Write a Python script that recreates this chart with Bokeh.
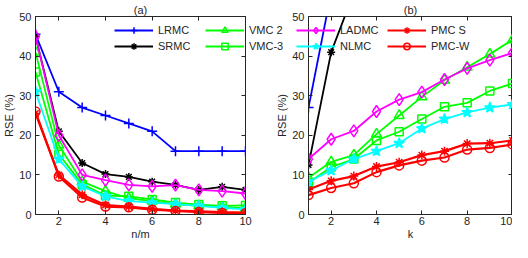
from bokeh.plotting import figure
from bokeh.models import LinearAxis, Range1d, FixedTicker, Legend, LegendItem
from bokeh.layouts import row
from bokeh.embed import file_html
from bokeh.resources import INLINE

# ---------------- data ----------------
x_a = [1, 2, 3, 4, 5, 6, 7, 8, 9, 10]
lrmc_a = [45.5, 31, 27, 25, 23, 21, 16, 16, 16, 16]
srmc_a = [45, 21, 13, 10.2, 9.5, 8.3, 7.5, 6.2, 7.0, 6.2]
vmc2_a = [41, 17.5, 8.3, 5.9, 4.1, 3.4, 2.6, 2.2, 1.9, 1.6]
vmc3_a = [36, 15.2, 7.6, 4.8, 4.6, 3.8, 3.0, 2.5, 2.2, 2.3]
ladmc_a = [45, 20, 10, 8.7, 7.5, 7.1, 7.4, 6.2, 5.9, 5.3]
nlmc_a = [31, 14, 7.1, 4.6, 3.4, 3.0, 2.6, 2.2, 1.7, 1.3]
pmcs_a = [25.5, 10, 5.0, 2.4, 2.0, 1.4, 1.0, 0.8, 0.6, 0.5]
pmcw_a = [26, 9.6, 4.3, 2.0, 1.8, 1.2, 0.9, 0.6, 0.4, 0.3]

k_b = [1, 2, 3, 4, 5, 6, 7, 8, 9, 10]
lrmc_b = [27, 56]
srmc_b = [12.5, 41, 56]
vmc2_b = [9.3, 13.3, 15, 20.3, 25, 29.7, 33.9, 37.2, 40.5, 44.1]
vmc3_b = [8, 12, 14, 18.7, 20.9, 24.1, 27.2, 28.2, 31.2, 33.1]
ladmc_b = [14, 19, 21.1, 26, 29, 30.9, 34.1, 36.9, 39, 40.8]
nlmc_b = [8.3, 11.1, 14, 16, 18, 21.7, 24.1, 25.8, 27, 27.8]
pmcs_b = [6.3, 8.5, 9.7, 12.1, 13.2, 15, 16, 17.9, 18, 18.7]
pmcw_b = [4.9, 6.7, 7.9, 10.7, 12.4, 13.6, 14.4, 16.4, 16.8, 17.7]

x_ticks = [2, 4, 6, 8, 10]
y_ticks = [0, 10, 20, 30, 40, 50]

names = ["LRMC", "SRMC", "VMC 2", "VMC-3", "LADMC", "NLMC", "PMC S", "PMC-W"]
colors = ["#0000FF", "#000000", "#00FF00", "#00FF00", "#FF00FF", "#00FFFF", "#FF0000", "#FF0000"]
markers = ["cross", "asterisk", "triangle", "square", "diamond", "star", "asterisk", "circle"]
msizes = [10, 8, 10, 8, 12, 11, 9, 9]
fills = [False, False, False, False, False, True, False, False]

FONT = "Liberation Sans"
AX = "#262626"


def style_axis(ax, labels=True, ticks=None, lab_standoff=4, title_standoff=1):
    ax.major_tick_in = 4
    ax.major_tick_out = 0
    ax.minor_tick_line_color = None
    ax.major_tick_line_color = AX
    ax.axis_line_color = AX
    ax.major_label_text_font = FONT
    ax.major_label_text_color = AX
    ax.major_label_text_font_size = "11px"
    ax.major_label_standoff = lab_standoff
    ax.axis_label_text_font = FONT
    ax.axis_label_text_font_size = "11px"
    ax.axis_label_text_font_style = "normal"
    ax.axis_label_text_color = AX
    ax.axis_label_standoff = title_standoff
    if not labels:
        ax.major_label_overrides = {t: "" for t in ticks}
        ax.major_label_standoff = 0


def make_fig(width, title, xlabel, mbl, mbr):
    p = figure(width=width, height=242, x_range=Range1d(1, 10), y_range=Range1d(0, 50),
               output_backend="svg", toolbar_location=None, title=title,
               min_border_left=mbl, min_border_right=mbr, min_border_top=10,
               min_border_bottom=0)
    p.background_fill_color = None
    p.border_fill_color = None
    p.title.align = "center"
    p.title.text_font = FONT
    p.title.text_font_size = "11px"
    p.title.text_font_style = "normal"
    p.title.text_color = AX
    p.title.standoff = 2
    p.xaxis.ticker = FixedTicker(ticks=x_ticks)
    p.yaxis.ticker = FixedTicker(ticks=y_ticks)
    p.xaxis.axis_label = xlabel
    p.yaxis.axis_label = "RSE (%)"
    style_axis(p.xaxis[0], lab_standoff=2, title_standoff=0)
    style_axis(p.yaxis[0])
    ra = LinearAxis(ticker=FixedTicker(ticks=y_ticks))
    style_axis(ra, labels=False, ticks=y_ticks)
    p.add_layout(ra, "right")
    ta = LinearAxis(ticker=FixedTicker(ticks=x_ticks))
    style_axis(ta, labels=False, ticks=x_ticks)
    p.add_layout(ta, "above")
    p.grid.visible = False
    p.outline_line_color = AX
    p.outline_line_alpha = 1
    return p


def draw(p, xs, series):
    out = []
    for name, ys, c, m, s, f in zip(names, series, colors, markers, msizes, fills):
        xx = xs[:len(ys)]
        lw = 2.2 if c == "#FF0000" else 1.8
        r1 = p.line(xx, ys, line_color=c, line_width=lw)
        r2 = p.scatter(xx, ys, marker=m, size=s, line_color=c, line_width=1.5,
                       fill_color=c if f else None)
        out.append((name, [r1, r2]))
    return out


series_a = [lrmc_a, srmc_a, vmc2_a, vmc3_a, ladmc_a, nlmc_a, pmcs_a, pmcw_a]

p1 = make_fig(256, "(a)", "n/m", 30, 11)
draw(p1, x_a, series_a)

p2 = make_fig(420, "(b)", "k", 216, 0)
draw(p2, k_b, [lrmc_b, srmc_b, vmc2_b, vmc3_b, ladmc_b, nlmc_b, pmcs_b, pmcw_b])
p2.margin = (0, 0, 0, -164)

# transparent overlay that carries the shared legend (not clipped by a plot frame);
# its ranges lie away from the data so its own copies of the series stay hidden
p3 = figure(width=400, height=242, x_range=Range1d(100, 101), y_range=Range1d(100, 101),
            output_backend="svg", toolbar_location=None, title=None,
            x_axis_location=None, y_axis_location=None, min_border=0)
p3.background_fill_color = None
p3.border_fill_color = None
p3.outline_line_color = None
p3.grid.visible = False
items = draw(p3, x_a, series_a)
legend = Legend(items=[LegendItem(label=n, renderers=r) for n, r in items],
                location="top_left", orientation="vertical", nrows=2,
                border_line_color=None, background_fill_alpha=0, padding=0, margin=14,
                spacing=0, glyph_width=39, glyph_height=16, label_height=16,
                label_width=47, label_standoff=5, label_text_font=FONT,
                label_text_font_size="11px", label_text_color=AX)
p3.add_layout(legend)
p3.margin = (-8, 0, 0, -412)

layout = row(p1, p2, p3)
open("out.html", "w").write(file_html(layout, INLINE))
